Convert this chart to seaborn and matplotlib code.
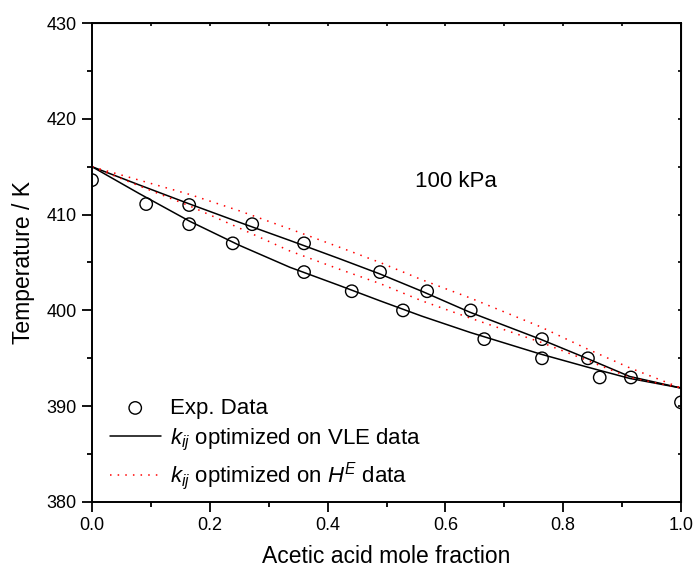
import pandas as pd
import matplotlib
matplotlib.use('Agg')
import matplotlib.pyplot as plt
import seaborn as sns
from matplotlib.ticker import MultipleLocator, FormatStrFormatter

exp_x = [0.0, 0.092, 0.165, 0.165, 0.239, 0.272, 0.36, 0.36, 0.441, 0.489,
         0.528, 0.569, 0.643, 0.666, 0.764, 0.764, 0.842, 0.862, 0.915, 1.0]
exp_T = [413.6, 411.1, 411.0, 409.0, 407.0, 409.0, 407.0, 404.0, 402.0, 404.0,
         400.0, 402.0, 400.0, 397.0, 397.0, 395.0, 395.0, 393.0, 393.0, 390.4]

# model curves
curve_x = [0.0, 0.08, 0.166, 0.25, 0.336, 0.42, 0.489, 0.56, 0.642, 0.761, 0.84, 0.913, 1.0]
vle_bubble = [415.0, 412.2, 409.3, 406.8, 404.5, 402.6, 401.0, 399.4, 397.7, 395.45, 394.1, 392.9, 391.9]
vle_dew = [415.0, 413.1, 411.1, 409.2, 407.3, 405.4, 403.8, 402.0, 399.8, 397.0, 395.0, 393.1, 391.9]
he_dew = [415.0, 413.6, 412.1, 410.4, 408.5, 406.6, 405.0, 403.2, 401.3, 398.3, 396.0, 394.0, 391.9]
he_bubble = [415.0, 413.0, 410.9, 408.6, 406.2, 404.3, 402.8, 401.0, 399.2, 396.7, 394.8, 393.0, 391.9]

sns.set_style('ticks')
plt.rcParams['font.family'] = ['Liberation Sans', 'DejaVu Sans']
plt.rcParams['mathtext.fontset'] = 'custom'
plt.rcParams['mathtext.rm'] = 'Liberation Sans'
plt.rcParams['mathtext.it'] = 'Liberation Sans:italic'
plt.rcParams['text.color'] = 'black'
plt.rcParams['axes.labelcolor'] = 'black'
plt.rcParams['axes.edgecolor'] = 'black'
plt.rcParams['xtick.color'] = 'black'
plt.rcParams['ytick.color'] = 'black'

fig = plt.figure(figsize=(6.95, 5.73), dpi=100)
ax = fig.add_axes([92/695, 1 - 502/573, 589/695, 479/573])

exp_df = pd.DataFrame({'x': exp_x, 'T': exp_T})
sns.scatterplot(data=exp_df, x='x', y='T', ax=ax, marker='o', s=80,
                facecolor='none', edgecolor='black', linewidth=1.0,
                label='Exp. Data', zorder=3)

vle_lw = 1.1
sns.lineplot(x=curve_x, y=vle_bubble, ax=ax, color='black', lw=vle_lw,
             sort=False, estimator=None, label='$k_{ij}$ optimized on VLE data')
sns.lineplot(x=curve_x, y=vle_dew, ax=ax, color='black', lw=vle_lw,
             sort=False, estimator=None)
dot = (0, (1, 4))
sns.lineplot(x=curve_x, y=he_dew, ax=ax, color='red', lw=1.1, linestyle=dot,
             sort=False, estimator=None, label='$k_{ij}$ optimized on $H^E$ data')
sns.lineplot(x=curve_x, y=he_bubble, ax=ax, color='red', lw=1.1, linestyle=dot,
             sort=False, estimator=None)

ax.set_xlim(0, 1)
ax.set_ylim(380, 430)
ax.xaxis.set_major_locator(MultipleLocator(0.2))
ax.xaxis.set_minor_locator(MultipleLocator(0.1))
ax.xaxis.set_major_formatter(FormatStrFormatter('%.1f'))
ax.yaxis.set_major_locator(MultipleLocator(10))
ax.yaxis.set_minor_locator(MultipleLocator(5))
ax.tick_params(which='major', direction='out', length=7, width=1.3, labelsize=13, pad=4)
ax.tick_params(which='minor', direction='out', length=3.5, width=1.3)
for s in ax.spines.values():
    s.set_linewidth(1.4)

# mirrored inward ticks on top / right
top = ax.secondary_xaxis('top')
top.xaxis.set_major_locator(MultipleLocator(0.1))
top.tick_params(direction='in', length=2.5, width=1.2, labeltop=False)
right = ax.secondary_yaxis('right')
right.yaxis.set_major_locator(MultipleLocator(5))
right.tick_params(direction='in', length=2.5, width=1.2, labelright=False)

ax.set_xlabel('Acetic acid mole fraction', fontsize=16.5, labelpad=8)
ax.set_ylabel('Temperature / K', fontsize=16.5, labelpad=8)
ax.text(0.618, 413.5, '100 kPa', fontsize=16, ha='center', va='center')

ax.legend(loc='lower left', bbox_to_anchor=(0.03, 0.02), frameon=False,
          fontsize=16, handlelength=2.3, handletextpad=0.4, labelspacing=0.35,
          borderpad=0, borderaxespad=0)

fig.savefig('out.png', dpi=100)
